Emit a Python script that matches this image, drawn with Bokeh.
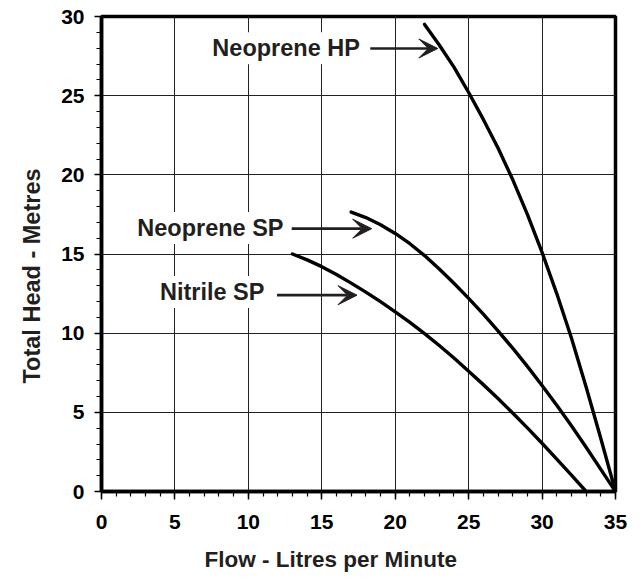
from bokeh.plotting import figure
from bokeh.models import (ColumnDataSource, Range1d, SingleIntervalTicker, Arrow, VeeHead, Title)
from bokeh.core.properties import value
from bokeh.embed import file_html
from bokeh.resources import INLINE

# ---- data ----
hp_flow = [22, 23, 24, 25, 26, 27, 28, 29, 30, 31, 32, 33, 34, 35]
hp_head = [29.5, 28.2, 26.8, 25.2, 23.5, 21.7, 19.7, 17.5, 15.1, 12.5, 9.7, 6.6, 3.35, 0.0]

nsp_flow = [17, 18, 19, 20, 21, 22, 23, 24, 25, 26, 27, 28, 29, 30, 31, 32, 33, 34, 35]
nsp_head = [17.65, 17.3, 16.85, 16.3, 15.65, 14.9, 14.05, 13.15, 12.2, 11.2, 10.15,
            9.05, 7.9, 6.7, 5.45, 4.15, 2.8, 1.4, 0.0]

nit_flow = [13, 14, 15, 16, 17, 18, 19, 20, 21, 22, 23, 24, 25, 26, 27, 28, 29, 30, 31, 32, 33]
nit_head = [15.0, 14.63, 14.2, 13.7, 13.16, 12.59, 11.99, 11.35, 10.68, 9.97, 9.22, 8.43,
            7.6, 6.75, 5.87, 4.96, 4.02, 3.05, 2.05, 1.03, 0.0]

label_text = ["Neoprene HP", "Neoprene SP", "Nitrile SP"]
label_x = [17.8, 12.6, 11.3]
label_y = [28.0, 16.65, 12.6]
arrow_x0 = [18.3, 12.95, 11.95]
arrow_x1 = [22.9, 18.4, 17.4]
arrow_y = [27.98, 16.6, 12.4]

x_title = "Flow - Litres per Minute"
y_title = "Total Head - Metres"

x_ticks_interval = 5
y_ticks_interval = 5

INK = "#231f20"
FONT = "Liberation Sans"

p = figure(frame_width=514, frame_height=475,
           min_border_left=101, min_border_right=17, min_border_top=16, min_border_bottom=88,
           x_range=Range1d(0, 35), y_range=Range1d(0, 30),
           output_backend="svg", toolbar_location=None,
           background_fill_color="white", border_fill_color="white")

p.outline_line_color = "black"
p.outline_line_width = 3.5
p.outline_line_alpha = 1.0

# axes
p.xaxis.ticker = SingleIntervalTicker(interval=x_ticks_interval, num_minor_ticks=5)
p.yaxis.ticker = SingleIntervalTicker(interval=y_ticks_interval, num_minor_ticks=5)
for ax in (p.xaxis, p.yaxis):
    ax.axis_line_width = 3.5
    ax.axis_line_color = "black"
    ax.major_tick_line_color = "black"
    ax.minor_tick_line_color = "black"
    ax.major_tick_line_width = 1.5
    ax.minor_tick_line_width = 1.2
    ax.major_tick_in = 0
    ax.minor_tick_in = 0
    ax.major_label_text_font = FONT
    ax.major_label_text_font_style = "bold"
    ax.major_label_text_font_size = "21px"
    ax.major_label_text_color = "black"

p.xaxis.major_tick_out = 8
p.xaxis.minor_tick_out = 5
p.yaxis.major_tick_out = 7
p.yaxis.minor_tick_out = 5
p.xaxis.major_label_standoff = 15
p.yaxis.major_label_standoff = 10

p.grid.grid_line_color = "#222222"
p.grid.grid_line_width = 1
p.grid.grid_line_alpha = 1.0

# axis titles (off-centre as in the reference)
p.add_layout(Title(text=x_title, align="left", offset=103, standoff=27,
                   text_font=FONT, text_font_style="bold", text_font_size="22.5px",
                   text_color=INK), "below")
p.add_layout(Title(text=y_title, align="left", offset=108, standoff=28,
                   text_font=FONT, text_font_style="bold", text_font_size="23.5px",
                   text_color=INK), "left")

# curves
for xs, ys in ((hp_flow, hp_head), (nsp_flow, nsp_head), (nit_flow, nit_head)):
    p.line(xs, ys, line_color="black", line_width=3.4, line_cap="round", line_join="round")

# labels with white boxes
lab_src = ColumnDataSource(dict(x=label_x, y=label_y, text=label_text))
p.text(x="x", y="y", text="text", source=lab_src,
       text_font=value(FONT), text_font_style="bold", text_font_size="23.5px",
       text_color=INK, text_align="right", text_baseline="middle",
       background_fill_color="white", background_fill_alpha=1.0, padding=3)

arr_src = ColumnDataSource(dict(x0=arrow_x0, x1=arrow_x1, y=arrow_y))
p.add_layout(Arrow(end=VeeHead(size=19, fill_color=INK, line_color=INK, line_width=1),
                   x_start="x0", y_start="y", x_end="x1", y_end="y",
                   line_color=INK, line_width=2.6, source=arr_src))

open("out.html", "w").write(file_html(p, INLINE))
